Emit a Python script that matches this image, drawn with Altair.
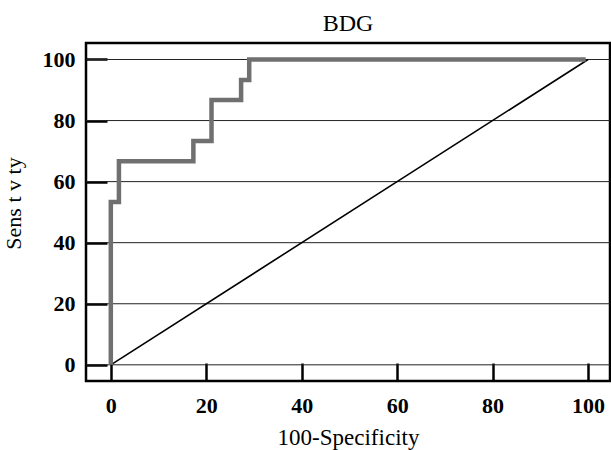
import altair as alt
import pandas as pd

# ROC curve (BDG)
roc_fpr = [0, 0, 1.7, 17.3, 21.1, 27.3, 29.0, 99.5]
roc_sens = [0, 53.3, 66.7, 73.3, 86.7, 93.3, 100, 100]
# reference diagonal
diag_x = [0, 100]
diag_y = [0, 100]
tick_vals = [0, 20, 40, 60, 80, 100]

FONT = "Liberation Serif"

roc_df = pd.DataFrame({"fpr": roc_fpr, "sens": roc_sens, "order": range(len(roc_fpr))})
diag_df = pd.DataFrame({"fpr": diag_x, "sens": diag_y})
grid_df = pd.DataFrame({"v": tick_vals})

xscale = alt.Scale(domain=[-5.2, 104.6], nice=False, zero=False)
yscale = alt.Scale(domain=[-5.3, 105.4], nice=False, zero=False)

xaxis = alt.Axis(values=tick_vals, offset=-18, tickSize=18, tickWidth=2.5, tickColor="black",
                 domain=False, grid=False, labelFont=FONT, labelFontSize=22, labelFontWeight="bold",
                 labelColor="black", labelPadding=14, title="100-Specificity", titleFont=FONT,
                 titleFontSize=23, titleFontWeight="normal", titleColor="black", titlePadding=10)
yaxis = alt.Axis(values=tick_vals, offset=-21, tickSize=21, tickWidth=2.5, tickColor="black",
                 domain=False, grid=False, labelFont=FONT, labelFontSize=22, labelFontWeight="bold",
                 labelColor="black", labelPadding=11, title="Sens t v ty", titleFont=FONT,
                 titleFontSize=22, titleFontWeight="normal", titleColor="black", titlePadding=17,
                 titleY=160)

grid = alt.Chart(grid_df).mark_rule(color="#222222", strokeWidth=1).encode(
    y=alt.Y("v:Q", scale=yscale, axis=yaxis)
)

diag = alt.Chart(diag_df).mark_line(color="black", strokeWidth=1.6).encode(
    x=alt.X("fpr:Q", scale=xscale, axis=xaxis),
    y=alt.Y("sens:Q", scale=yscale, axis=yaxis),
)

roc = alt.Chart(roc_df).mark_line(color="#707070", strokeWidth=4.5, interpolate="step-after").encode(
    x=alt.X("fpr:Q", scale=xscale, axis=xaxis),
    y=alt.Y("sens:Q", scale=yscale, axis=yaxis),
    order="order:Q",
)

chart = alt.layer(grid, diag, roc).properties(
    width=524, height=338,
    background="white",
    title=alt.TitleParams("BDG", font=FONT, fontSize=24, fontWeight="normal", color="black", offset=7),
    autosize=alt.AutoSizeParams(type="none"),
    padding={"left": 86, "top": 43, "right": 1, "bottom": 69},
).configure_view(stroke="black", strokeWidth=2.5)

chart.save("out.html", embed_options={"renderer": "svg", "actions": False})
